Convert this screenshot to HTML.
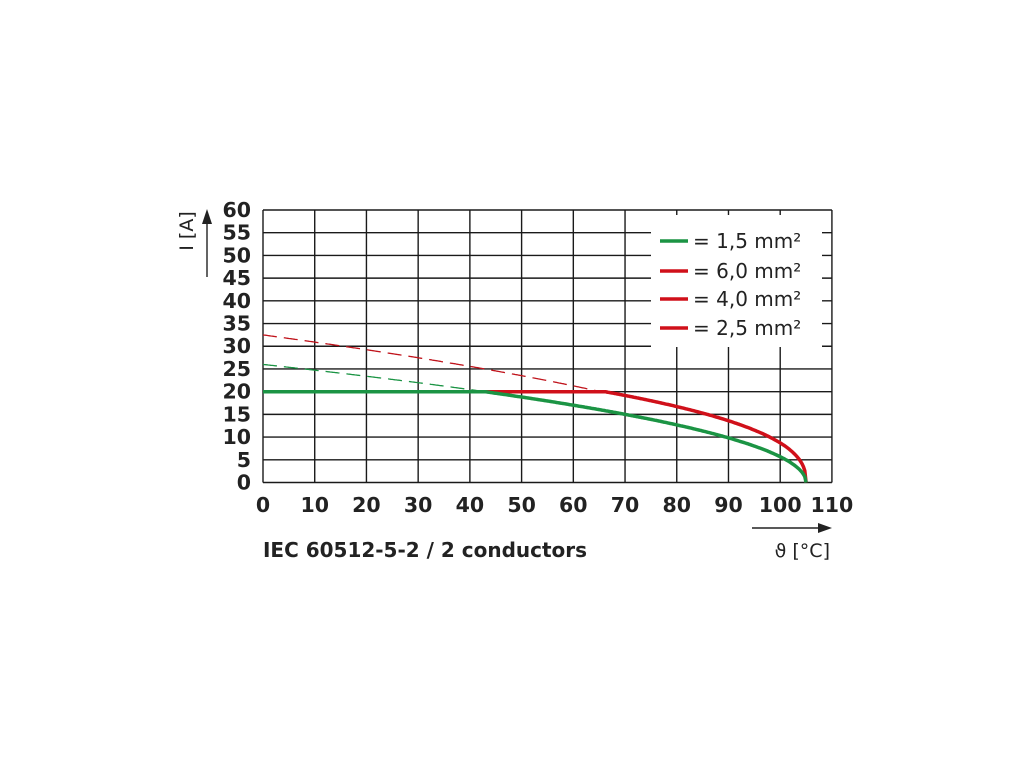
<!DOCTYPE html>
<html><head><meta charset="utf-8"><style>
html,body{margin:0;padding:0;background:#fff;width:1020px;height:765px;overflow:hidden}
svg text{font-family:"DejaVu Sans","Liberation Sans",sans-serif}
</style></head><body>
<svg id="s" width="1020" height="765" xmlns="http://www.w3.org/2000/svg">
<g id="grid" stroke="#1a1a1a" stroke-width="1.4"></g>
<rect x="651" y="215" width="171" height="132" fill="#fff"/>
<g id="curves" fill="none"></g>
<g font-size="20" fill="#222">
<line x1="660" y1="241" x2="688" y2="241" stroke="#1b9444" stroke-width="3.5"/>
<text x="693" y="248">= 1,5 mm²</text>
<line x1="660" y1="271" x2="688" y2="271" stroke="#d0101a" stroke-width="3.5"/>
<text x="693" y="278">= 6,0 mm²</text>
<line x1="660" y1="299" x2="688" y2="299" stroke="#d0101a" stroke-width="3.5"/>
<text x="693" y="306">= 4,0 mm²</text>
<line x1="660" y1="328" x2="688" y2="328" stroke="#d0101a" stroke-width="3.5"/>
<text x="693" y="335">= 2,5 mm²</text>
</g>
<g id="labels" font-size="20.5" font-weight="bold" fill="#222"></g>
<text x="263" y="557" font-size="20" font-weight="bold" fill="#222" textLength="324" lengthAdjust="spacingAndGlyphs">IEC 60512-5-2 / 2 conductors</text>
<line x1="752" y1="528" x2="820" y2="528" stroke="#222" stroke-width="1.4"/>
<polygon points="832,528 818,523 818,533" fill="#222"/>
<text x="830" y="557" font-size="19" fill="#222" text-anchor="end">ϑ [°C]</text>
<line x1="207" y1="277" x2="207" y2="222" stroke="#222" stroke-width="1.4"/>
<polygon points="207,209 202,224 212,224" fill="#222"/>
<text transform="translate(193,231) rotate(-90)" font-size="19" fill="#222" text-anchor="middle">I [A]</text>
</svg>
<script>
const X=t=>263+t*5.172, Y=v=>482.5-v*4.5417;
const g=document.getElementById('grid'),c=document.getElementById('curves'),L=document.getElementById('labels');
let h='';
for(let i=0;i<=11;i++)h+=`<line x1="${X(i*10)}" y1="${Y(60)}" x2="${X(i*10)}" y2="${Y(0)}"/>`;
for(let j=0;j<=12;j++)h+=`<line x1="${X(0)}" y1="${Y(j*5)}" x2="${X(110)}" y2="${Y(j*5)}"/>`;
g.innerHTML=h;
let l='';
for(let j=0;j<=12;j++)l+=`<text x="251" y="${Y(j*5)+7}" text-anchor="end">${j*5}</text>`;
for(let i=0;i<=11;i++)l+=`<text x="${X(i*10)}" y="512" text-anchor="middle">${i*10}</text>`;
L.innerHTML=l;
function path(f,t0,t1,cap){let d='';for(let t=t0;t<=t1+1e-9;t+=0.25){let v=f(Math.max(0,(105-t)/105));if(cap)v=Math.min(v,20);d+=(d?'L':'M')+X(t).toFixed(1)+','+Y(v).toFixed(1);}return d;}
const fr=r=>32.5*Math.sqrt(r), fg=r=>26*Math.sqrt(r), frs=r=>29.9*Math.pow(r,0.405);
c.innerHTML=
`<path d="${path(fr,0,67,false)}" stroke="#c0141c" stroke-width="1.3" stroke-dasharray="14,7"/>`+
`<path d="${path(fg,0,42,false)}" stroke="#1b9444" stroke-width="1.3" stroke-dasharray="14,7"/>`+
`<path d="${path(frs,40,105,true)}" stroke="#d0101a" stroke-width="3.5"/>`+
`<path d="${path(fg,0,105,true)}" stroke="#1b9444" stroke-width="3.5"/>`;
</script>
</body></html>
